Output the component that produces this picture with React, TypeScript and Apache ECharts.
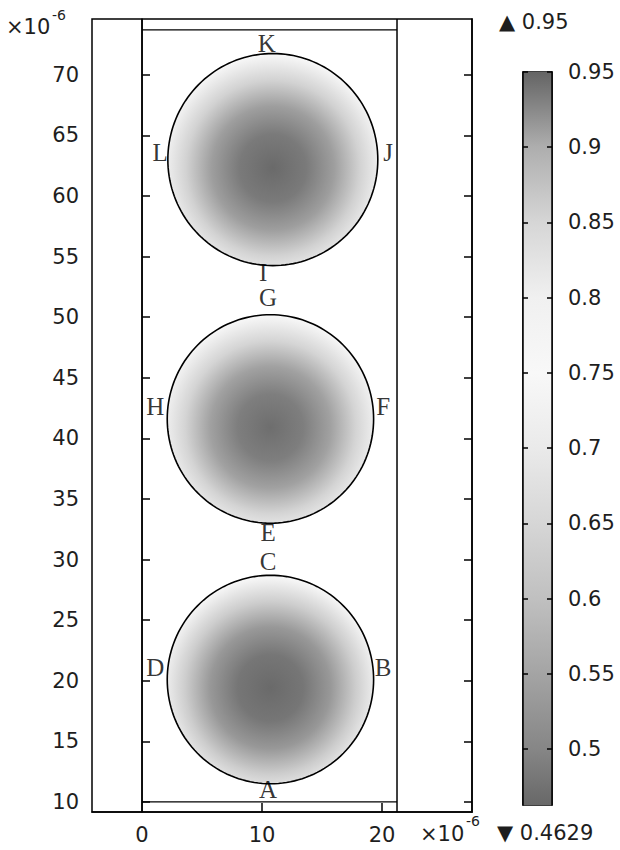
import React, { useEffect, useRef } from "react";
import * as echarts from "echarts";

// ---- axes ----
const xRange = [-4.17, 27.5];
const yRange = [9.17, 74.6];
const xTickValues = [0, 10, 20];
const xInnerTicks = [10, 20];
const yTickValues = [10, 15, 20, 25, 30, 35, 40, 45, 50, 55, 60, 65, 70];

// ---- geometry boundary lines (data units, ×1e-6) ----
const boundaryX = [0, 21.25];
const boundaryY = [10, 73.7];

// ---- circular domains ----
const circleCenterX = [10.7, 10.7, 10.9];
const circleCenterY = [20.1, 41.6, 63.0];
const circleRadius = [8.6, 8.6, 8.75];
const radialStops = [0, 0.3, 0.55, 0.78, 1];
const circleProfiles = [
  [0.465, 0.48, 0.53, 0.63, 0.765],
  [0.47, 0.49, 0.545, 0.645, 0.765],
  [0.465, 0.485, 0.54, 0.64, 0.765],
];

// ---- point labels ----
const pointLabels = ["A", "B", "C", "D", "E", "F", "G", "H", "I", "J", "K", "L"];
const pointX = [10.5, 20.1, 10.5, 1.1, 10.5, 20.1, 10.5, 1.1, 10.1, 20.5, 10.4, 1.5];
const pointY = [11.0, 21.1, 29.8, 21.1, 32.2, 42.6, 51.6, 42.6, 53.7, 63.6, 72.6, 63.6];

// ---- colour bar ----
const colorbarMin = 0.4629;
const colorbarMax = 0.95;
const colorbarTicks = [0.5, 0.55, 0.6, 0.65, 0.7, 0.75, 0.8, 0.85, 0.9, 0.95];
const cmapValues = [0.4629, 0.5, 0.55, 0.6, 0.65, 0.7, 0.75, 0.8, 0.85, 0.9, 0.95];
const cmapGrays = [104, 134, 164, 192, 214, 234, 248, 240, 214, 174, 100];

function grayFor(v: number): string {
  let g = cmapGrays[0];
  if (v >= cmapValues[cmapValues.length - 1]) g = cmapGrays[cmapGrays.length - 1];
  else {
    for (let i = 0; i < cmapValues.length - 1; i++) {
      if (v >= cmapValues[i] && v <= cmapValues[i + 1]) {
        const t = (v - cmapValues[i]) / (cmapValues[i + 1] - cmapValues[i]);
        g = cmapGrays[i] + t * (cmapGrays[i + 1] - cmapGrays[i]);
        break;
      }
    }
  }
  const c = Math.round(g);
  return `rgb(${c},${c},${c})`;
}

const SANS = "DejaVu Sans";
const SERIF = "Liberation Serif";
const TXT = "#1e1e1e";

export default function App() {
  const ref = useRef<HTMLDivElement>(null);
  useEffect(() => {
    document.body.style.margin = "0";
    if (!ref.current) return;
    const chart = echarts.init(ref.current, null, { renderer: "svg" });

    const circleData = circleCenterX.map((cx, i) => [cx, circleCenterY[i], circleRadius[i], i]);

    const boundarySeries: any[] = [];
    boundaryX.forEach((bx) => {
      boundarySeries.push({
        type: "line",
        xAxisIndex: 0,
        yAxisIndex: 0,
        data: [[bx, yRange[0]], [bx, yRange[1]]],
        symbol: "none",
        lineStyle: { color: "#000", width: 1.5 },
        silent: true,
      });
    });
    boundaryY.forEach((by) => {
      boundarySeries.push({
        type: "line",
        xAxisIndex: 0,
        yAxisIndex: 0,
        data: [[boundaryX[0], by], [boundaryX[1], by]],
        symbol: "none",
        lineStyle: { color: "#000", width: 1.2 },
        silent: true,
      });
    });

    const axisLabelStyle = { fontFamily: SANS, fontSize: 21, color: TXT };

    const option: any = {
      animation: false,
      grid: [
        { left: 92, top: 19, width: 380, height: 793, show: true, borderColor: "#000", borderWidth: 1.5, backgroundColor: "transparent" },
        { left: 523, top: 72, width: 29, height: 733, show: true, borderColor: "#000", borderWidth: 1.5, backgroundColor: "transparent" },
      ],
      xAxis: [
        {
          type: "value", gridIndex: 0, min: xRange[0], max: xRange[1],
          axisLine: { show: true, lineStyle: { color: "#000", width: 1.5 } },
          axisTick: { show: true, inside: true, length: 9, customValues: xInnerTicks, lineStyle: { color: "#000", width: 1.5 } },
          axisLabel: { show: true, customValues: xTickValues, margin: 12, ...axisLabelStyle, formatter: (v: number) => String(v) },
          splitLine: { show: false },
        },
        { type: "value", gridIndex: 1, min: 0, max: 1, show: false },
      ],
      yAxis: [
        {
          type: "value", gridIndex: 0, position: "left", min: yRange[0], max: yRange[1],
          axisLine: { show: true, lineStyle: { color: "#000", width: 1.5 } },
          axisTick: { show: true, inside: true, length: 8, customValues: yTickValues, lineStyle: { color: "#000", width: 1.5 } },
          axisLabel: { show: true, customValues: yTickValues, margin: 13, ...axisLabelStyle, formatter: (v: number) => String(v) },
          splitLine: { show: false },
        },
        {
          type: "value", gridIndex: 0, position: "right", min: yRange[0], max: yRange[1],
          axisLine: { show: true, lineStyle: { color: "#000", width: 1.5 } },
          axisTick: { show: true, inside: true, length: 8, customValues: yTickValues, lineStyle: { color: "#000", width: 1.5 } },
          axisLabel: { show: false },
          splitLine: { show: false },
        },
        {
          type: "value", gridIndex: 1, position: "left", min: colorbarMin, max: colorbarMax,
          axisLine: { show: true, lineStyle: { color: "#000", width: 1.5 } },
          axisTick: { show: true, inside: true, length: 5, customValues: colorbarTicks, lineStyle: { color: "#000", width: 1.5 } },
          axisLabel: { show: false },
          splitLine: { show: false },
          z: 5,
        },
        {
          type: "value", gridIndex: 1, position: "right", min: colorbarMin, max: colorbarMax,
          axisLine: { show: true, lineStyle: { color: "#000", width: 1.5 } },
          axisTick: { show: true, inside: true, length: 5, customValues: colorbarTicks, lineStyle: { color: "#000", width: 1.5 } },
          axisLabel: { show: true, customValues: colorbarTicks, margin: 16, ...axisLabelStyle, formatter: (v: number) => String(+v.toFixed(4)) },
          splitLine: { show: false },
          z: 5,
        },
      ],
      series: [
        {
          type: "custom",
          xAxisIndex: 1,
          yAxisIndex: 2,
          data: [[0, colorbarMin, 1, colorbarMax]],
          z: 1,
          renderItem: (params: any, api: any) => {
            const p0 = api.coord([api.value(0), api.value(3)]);
            const p1 = api.coord([api.value(2), api.value(1)]);
            const stops = cmapValues
              .map((v) => ({ offset: (colorbarMax - v) / (colorbarMax - colorbarMin), color: grayFor(v) }))
              .sort((a, b) => a.offset - b.offset);
            return {
              type: "rect",
              shape: { x: p0[0], y: p0[1], width: p1[0] - p0[0], height: p1[1] - p0[1] },
              style: { fill: new echarts.graphic.LinearGradient(0, 0, 0, 1, stops), stroke: "none" },
            };
          },
        },
        {
          type: "custom",
          xAxisIndex: 0,
          yAxisIndex: 0,
          data: circleData,
          z: 2,
          renderItem: (params: any, api: any) => {
            const cx = api.value(0);
            const cy = api.value(1);
            const r = api.value(2);
            const idx = api.value(3);
            const pts: number[][] = [];
            const N = 160;
            for (let k = 0; k < N; k++) {
              const a = (k / N) * Math.PI * 2;
              pts.push(api.coord([cx + r * Math.cos(a), cy + r * Math.sin(a)]));
            }
            const prof = circleProfiles[idx];
            const stops = radialStops.map((s, j) => ({ offset: s, color: grayFor(prof[j]) }));
            return {
              type: "polygon",
              shape: { points: pts },
              style: {
                fill: new echarts.graphic.RadialGradient(0.5, 0.54, 0.53, stops),
                stroke: "#000",
                lineWidth: 1.6,
              },
            };
          },
        },
        ...boundarySeries,
        {
          type: "scatter",
          xAxisIndex: 0,
          yAxisIndex: 0,
          symbolSize: 1,
          itemStyle: { color: "transparent" },
          z: 4,
          data: pointLabels.map((n, i) => ({ name: n, value: [pointX[i], pointY[i]] })),
          label: {
            show: true,
            position: "inside",
            formatter: (p: any) => p.name,
            fontFamily: SERIF,
            fontSize: 25,
            color: "#000",
          },
          silent: true,
        },
      ],
      graphic: [
        { type: "text", x: 6, y: 27, style: { text: "×10", fontFamily: SANS, fontSize: 21, fill: TXT, textVerticalAlign: "middle" } },
        { type: "text", x: 52, y: 15, style: { text: "-6", fontFamily: SANS, fontSize: 14, fill: TXT, textVerticalAlign: "middle" } },
        { type: "text", x: 420, y: 834, style: { text: "×10", fontFamily: SANS, fontSize: 21, fill: TXT, textVerticalAlign: "middle" } },
        { type: "text", x: 466, y: 821, style: { text: "-6", fontFamily: SANS, fontSize: 14, fill: TXT, textVerticalAlign: "middle" } },
        { type: "text", x: 499, y: 22, style: { text: "▲ 0.95", fontFamily: SANS, fontSize: 21, fill: TXT, textVerticalAlign: "middle" } },
        { type: "text", x: 497, y: 833, style: { text: "▼ 0.4629", fontFamily: SANS, fontSize: 21, fill: TXT, textVerticalAlign: "middle" } },
      ],
    };
    chart.setOption(option);
    return () => chart.dispose();
  }, []);
  return <div ref={ref} style={{ width: 620, height: 850, background: "#fff" }} />;
}
